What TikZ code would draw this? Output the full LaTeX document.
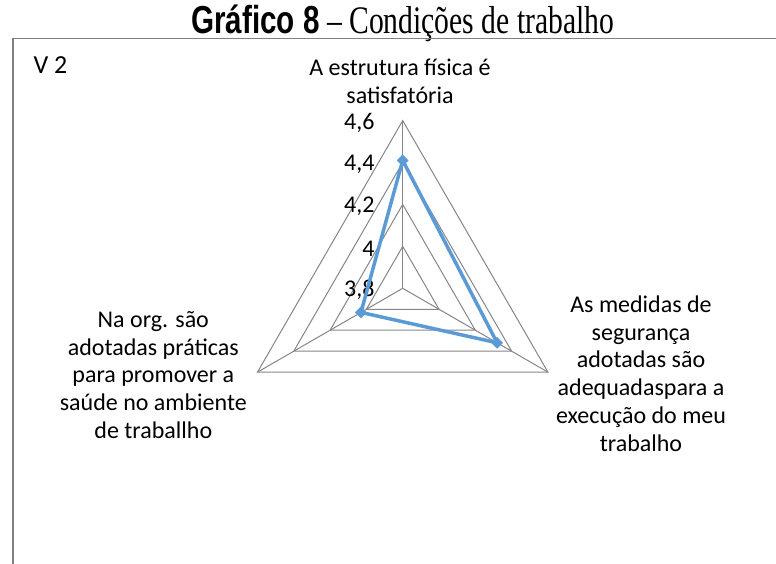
\documentclass[tikz,border=0pt]{standalone}
\usepackage{fontspec}
\setmainfont{Liberation Serif}
\newfontfamily\calibri{Carlito}
\newfontfamily\headsans{Liberation Sans}
\usetikzlibrary{shapes.geometric}
\definecolor{gridgray}{RGB}{134, 134, 134}
\definecolor{framegray}{RGB}{128, 128, 128}
\definecolor{seriesblue}{RGB}{91, 155, 213}
\tikzset{
    frameline/.style={draw=framegray, line width=1.8pt},
    ring/.style={draw=gridgray, line width=1pt, line join=miter},
    spoke/.style={draw=gridgray, line width=1pt},
    series/.style={draw=seriesblue, line width=3.5pt, line join=round},
    marker/.style={diamond, fill=seriesblue, inner sep=0pt, minimum size=12pt},
    catlabel/.style={font=\calibri\fontsize{24}{27.7}\selectfont, align=center, anchor=base},
    ticklabel/.style={font=\calibri\fontsize{24}{27.7}\selectfont, anchor=east},
    titletext/.style={font=\fontsize{39}{42}\selectfont, anchor=base},
}

\begin{document}
\begin{tikzpicture}[x=1pt, y=-1pt]
    \useasboundingbox (0,0) rectangle (776,564);

    % title and chart frame
    \node[titletext] (title) at (402.7, 33.3)
        {\scalebox{0.76}[1]{{\headsans\bfseries Gráfico 8} – Condições de trabalho}};
    \draw[frameline] (12.7, 564) -- (12.7, 38.5) -- (776, 38.5);
    \node[catlabel, font=\calibri\fontsize{26}{28}\selectfont, anchor=base west, inner sep=0pt] (version) at (33.3, 73.3) {V 2};

    % radar grid
    \coordinate (C) at (402.7, 288.3);
    \begin{scope}[shift={(C)}]
        \draw[ring] (-90:41.9) -- (30:41.9) -- (150:41.9) -- cycle;
        \draw[ring] (-90:83.85) -- (30:83.85) -- (150:83.85) -- cycle;
        \draw[ring] (-90:125.8) -- (30:125.8) -- (150:125.8) -- cycle;
        \draw[ring] (-90:167.7) -- (30:167.7) -- (150:167.7) -- cycle;
        \coordinate (vtop) at (-90:167.7);
        \coordinate (vright) at (30:167.7);
        \coordinate (vleft) at (150:167.7);
        % series values 4,41 / 4,32 / 4,03
        \coordinate (dtop) at (-90:127.9);
        \coordinate (dright) at (30:109.0);
        \coordinate (dleft) at (150:48.2);
    \end{scope}
    \draw[spoke] (C) -- (vtop);
    \draw[spoke] (C) -- (vright);
    \draw[spoke] (C) -- (vleft);

    % tick values
    \node[ticklabel] (t46) at (378, 122.6) {4,6};
    \node[ticklabel] (t44) at (378, 164.5) {4,4};
    \node[ticklabel] (t42) at (378, 206.4) {4,2};
    \node[ticklabel] (t40) at (378, 248.4) {4};
    \node[ticklabel] (t38) at (378, 290.3) {3,8};

    % data series
    \draw[series] (dtop) -- (dright) -- (dleft) -- cycle;
    \node[marker] (mtop) at (dtop) {};
    \node[marker] (mright) at (dright) {};
    \node[marker] (mleft) at (dleft) {};

    % category labels (anchored on the last line)
    \node[catlabel] (catA) at (400, 103.3) {A estrutura física é\\satisfatória};
    \node[catlabel] (catB) at (641, 451) {As medidas de\\segurança\\adotadas são\\adequadaspara a\\execução do meu\\trabalho};
    \node[catlabel] (catC) at (153.3, 438.3) {Na org. são\\adotadas práticas\\para promover a\\saúde no ambiente\\de traballho};
\end{tikzpicture}
\end{document}
